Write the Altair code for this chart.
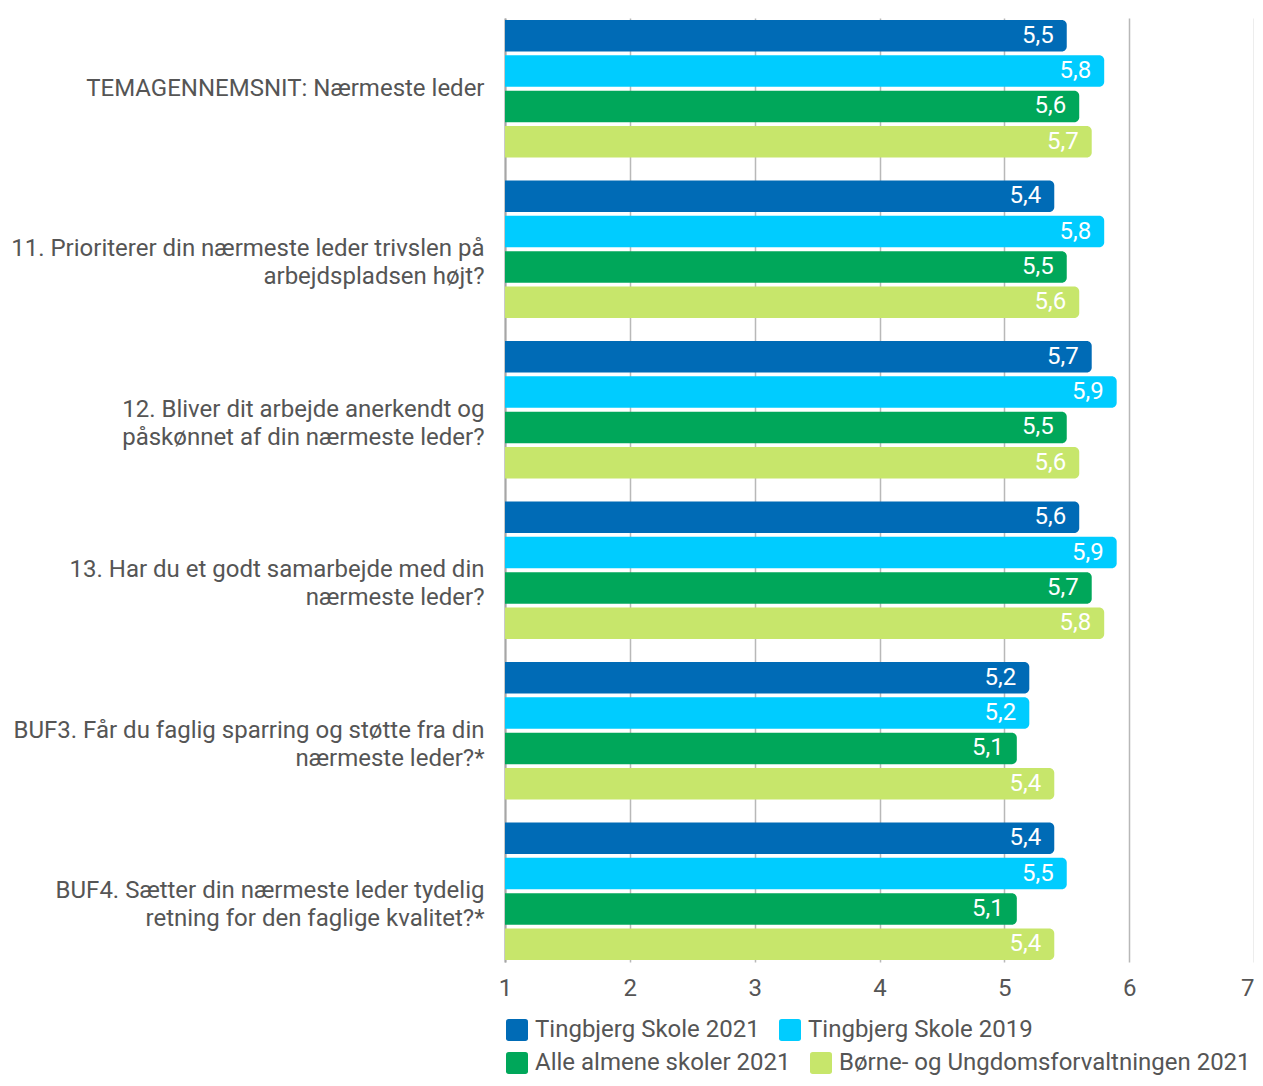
import altair as alt
import pandas as pd

categories = [
    "TEMAGENNEMSNIT: Nærmeste leder",
    "11. Prioriterer din nærmeste leder trivslen på|arbejdspladsen højt?",
    "12. Bliver dit arbejde anerkendt og|påskønnet af din nærmeste leder?",
    "13. Har du et godt samarbejde med din|nærmeste leder?",
    "BUF3. Får du faglig sparring og støtte fra din|nærmeste leder?*",
    "BUF4. Sætter din nærmeste leder tydelig|retning for den faglige kvalitet?*",
]
series = [
    "Tingbjerg Skole 2021",
    "Tingbjerg Skole 2019",
    "Alle almene skoler 2021",
    "Børne- og Ungdomsforvaltningen 2021",
]
colors = ["#006bb6", "#00ccff", "#00a75a", "#c7e66b"]

tingbjerg_2021 = [5.5, 5.4, 5.7, 5.6, 5.2, 5.4]
tingbjerg_2019 = [5.8, 5.8, 5.9, 5.9, 5.2, 5.5]
alle_almene_2021 = [5.6, 5.5, 5.5, 5.7, 5.1, 5.1]
buf_2021 = [5.7, 5.6, 5.6, 5.8, 5.4, 5.4]

series_values = [tingbjerg_2021, tingbjerg_2019, alle_almene_2021, buf_2021]

rows = []
for s, vals in zip(series, series_values):
    for c, v in zip(categories, vals):
        rows.append({"cat": c, "series": s, "value": v,
                     "label": f"{v:.1f}".replace(".", ",")})
df = pd.DataFrame(rows)
df_a = df[df["series"].isin(series[:2])]
df_b = df[df["series"].isin(series[2:])]

FS = 24
TXT = "#555555"

rounded = ("M-1,-0.75 Q-1,-1 -0.75,-1 L0.75,-1 Q1,-1 1,-0.75 L1,0.75 "
           "Q1,1 0.75,1 L-0.75,1 Q-1,1 -1,0.75 Z")

y_enc = alt.Y(
    "cat:N", sort=categories, title=None,
    scale=alt.Scale(paddingInner=0.143, paddingOuter=0.012),
    axis=alt.Axis(
        labelExpr="split(datum.label, '|')",
        labelFontSize=FS, labelColor=TXT, labelLimit=600,
        labelLineHeight=28, labelPadding=21, ticks=False,
        domain=True, domainColor="#a6a6a6", domainWidth=2,
        labelAlign="right",
    ),
)
yoff_enc = alt.YOffset("series:N", sort=series,
                       scale=alt.Scale(domain=series, paddingInner=0.11,
                                       paddingOuter=0))
x_scale = alt.Scale(domain=[1, 7], nice=False, zero=False)
x_enc = alt.X("value:Q", scale=x_scale, title=None,
              axis=alt.Axis(values=[1, 2, 3, 4, 5, 6, 7], format="d",
                            labelFontSize=FS, labelColor=TXT,
                            labelFlush=False,
                            labelAlign=alt.ExprRef(
                                "datum.value == 7 ? 'right' : 'center'"),
                            labelPadding=14, ticks=False, domain=False,
                            grid=True, gridColor="#b8b8b8", gridWidth=1.5))


def legend_for(y_pos):
    return alt.Legend(
        title=None, orient="none", legendX=0, legendY=y_pos,
        direction="horizontal",
        symbolType=rounded, symbolSize=484, symbolStrokeWidth=0,
        symbolOpacity=1,
        labelFontSize=FS, labelColor=TXT, labelOffset=6,
        columnPadding=18, padding=0, labelLimit=600,
    )


bar_style = dict(cornerRadiusTopRight=5, cornerRadiusBottomRight=5)

bars_a = alt.Chart(df_a).mark_bar(**bar_style).encode(
    x=x_enc, x2=alt.datum(1), y=y_enc, yOffset=yoff_enc,
    color=alt.Color("series:N", sort=series[:2],
                    scale=alt.Scale(domain=series[:2], range=colors[:2]),
                    legend=legend_for(1000)),
)
bars_b = alt.Chart(df_b).mark_bar(**bar_style).encode(
    x=x_enc, x2=alt.datum(1), y=y_enc, yOffset=yoff_enc,
    fill=alt.Fill("series:N", sort=series[2:],
                  scale=alt.Scale(domain=series[2:], range=colors[2:]),
                  legend=legend_for(1033)),
)

texts = alt.Chart(df).mark_text(
    align="right", baseline="middle", dx=-13, color="white", fontSize=FS
).encode(
    x=alt.X("value:Q", scale=x_scale),
    y=alt.Y("cat:N", sort=categories),
    yOffset=alt.YOffset("series:N", sort=series),
    text="label:N",
)

chart = (bars_a + bars_b + texts).resolve_scale(
    color="independent", fill="independent"
).properties(
    width=749, height=944,
    autosize=alt.AutoSizeParams(type="none"),
    padding={"left": 497, "top": 10, "right": 0, "bottom": 116},
).configure(font="Roboto").configure_view(stroke=None)

chart.save("out.html", embed_options={"renderer": "svg", "actions": False})
